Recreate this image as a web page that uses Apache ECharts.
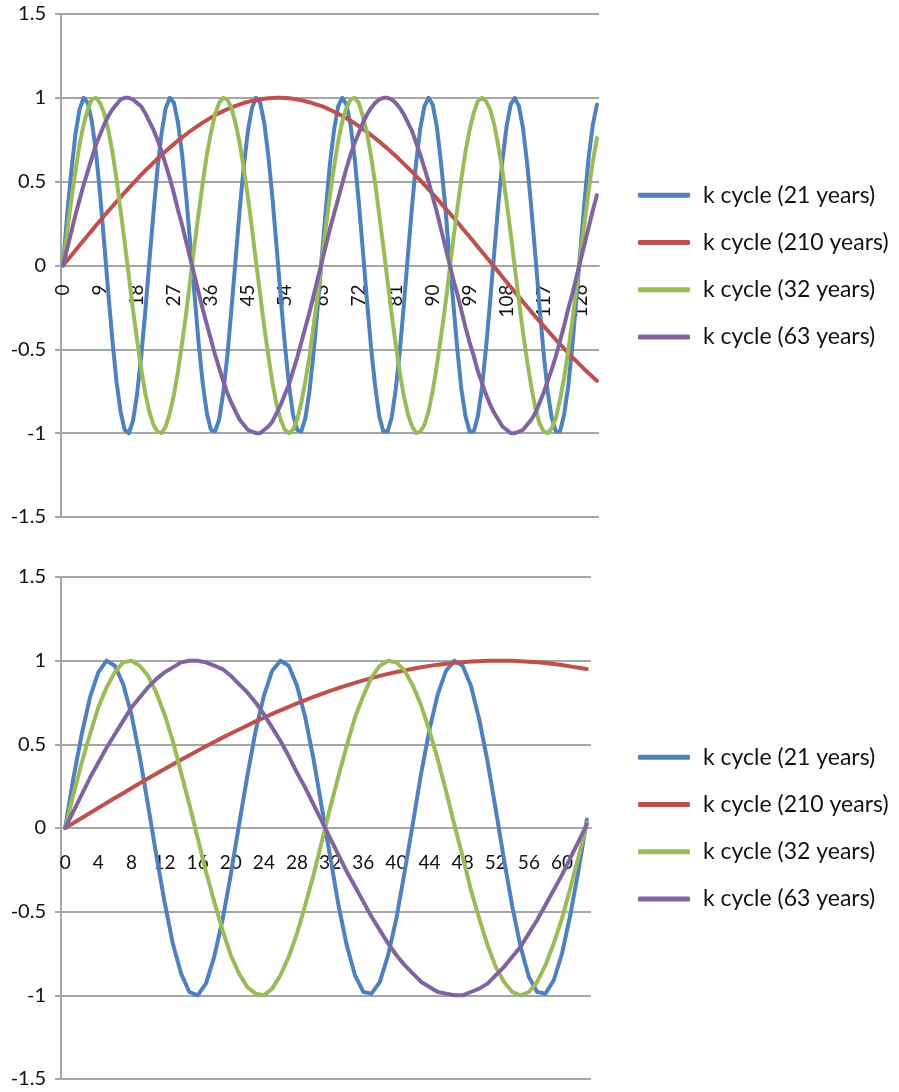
<!DOCTYPE html>
<html>
<head>
<meta charset="utf-8">
<script src="https://cdn.jsdelivr.net/npm/echarts@6/dist/echarts.min.js"></script>
<style>
    html, body { margin: 0; padding: 0; background: #fff; }
    #chart { width: 899px; height: 1092px; }
</style>
</head>
<body>
<div id="chart"></div>
<script>
// k = 0..130 (top panel), first 64 values reused for the bottom panel
const years = [0,1,2,3,4,5,6,7,8,9,10,11,12,13,14,15,16,17,18,19,20,21,22,23,24,25,26,27,28,29,
    30,31,32,33,34,35,36,37,38,39,40,41,42,43,44,45,46,47,48,49,50,51,52,53,54,55,56,57,58,59,
    60,61,62,63,64,65,66,67,68,69,70,71,72,73,74,75,76,77,78,79,80,81,82,83,84,85,86,87,88,89,
    90,91,92,93,94,95,96,97,98,99,100,101,102,103,104,105,106,107,108,109,110,111,112,113,114,
    115,116,117,118,119,120,121,122,123,124,125,126,127,128,129,130];

const cycle21 = [0,0.30,0.56,0.78,0.93,1.00,0.97,0.86,0.68,0.43,0.14,-0.16,-0.44,-0.69,-0.87,-0.98,-1.00,-0.93,-0.77,-0.55,-0.28,
    0.02,0.31,0.58,0.79,0.94,1.00,0.97,0.85,0.66,0.41,0.12,-0.17,-0.46,-0.70,-0.88,-0.98,-0.99,-0.92,-0.76,-0.54,-0.26,
    0.03,0.33,0.59,0.80,0.94,1.00,0.97,0.85,0.65,0.40,0.11,-0.19,-0.47,-0.71,-0.89,-0.98,-0.99,-0.91,-0.75,-0.52,-0.25,
    0.05,0.34,0.61,0.81,0.95,1.00,0.96,0.84,0.64,0.38,0.09,-0.21,-0.49,-0.72,-0.90,-0.99,-0.99,-0.91,-0.74,-0.51,-0.23,
    0.07,0.36,0.62,0.82,0.95,1.00,0.96,0.83,0.62,0.37,0.07,-0.22,-0.50,-0.74,-0.90,-0.99,-0.99,-0.90,-0.73,-0.49,-0.21,
    0.08,0.37,0.63,0.83,0.96,1.00,0.95,0.82,0.61,0.35,0.06,-0.24,-0.52,-0.75,-0.91,-0.99,-0.99,-0.89,-0.72,-0.48,-0.20,
    0.10,0.39,0.65,0.84,0.96];

const cycle210 = [0,0.030,0.060,0.090,0.120,0.149,0.179,0.208,0.238,0.267,
    0.296,0.324,0.352,0.380,0.408,0.435,0.462,0.488,0.514,0.540,
    0.565,0.589,0.613,0.637,0.659,0.682,0.703,0.724,0.745,0.764,
    0.783,0.802,0.819,0.836,0.852,0.867,0.882,0.896,0.909,0.921,
    0.932,0.942,0.952,0.961,0.969,0.976,0.982,0.987,0.991,0.995,
    0.997,0.999,1.000,1.000,0.999,0.997,0.994,0.990,0.986,0.980,
    0.974,0.966,0.958,0.950,0.940,0.929,0.917,0.905,0.892,0.878,
    0.863,0.848,0.831,0.814,0.797,0.778,0.759,0.739,0.718,0.697,
    0.675,0.653,0.630,0.606,0.582,0.558,0.533,0.507,0.481,0.454,
    0.427,0.400,0.372,0.344,0.316,0.288,0.259,0.229,0.200,0.171,
    0.141,0.111,0.082,0.052,0.022,-0.008,-0.038,-0.068,-0.098,-0.128,
    -0.158,-0.187,-0.217,-0.246,-0.275,-0.304,-0.332,-0.360,-0.388,-0.415,
    -0.443,-0.469,-0.496,-0.521,-0.547,-0.571,-0.596,-0.620,-0.643,-0.666,
    -0.688];

const cycle32 = [0,0.20,0.39,0.56,0.72,0.84,0.93,0.99,1.00,0.97,
    0.91,0.81,0.68,0.52,0.33,0.14,-0.06,-0.26,-0.44,-0.61,
    -0.76,-0.87,-0.95,-0.99,-1.00,-0.96,-0.88,-0.77,-0.63,-0.46,
    -0.28,-0.08,0.12,0.31,0.49,0.66,0.79,0.90,0.97,1.00,
    0.99,0.94,0.85,0.73,0.58,0.41,0.22,0.02,-0.17,-0.37,
    -0.54,-0.70,-0.83,-0.92,-0.98,-1.00,-0.98,-0.92,-0.82,-0.69,
    -0.54,-0.36,-0.17,0.03,0.23,0.42,0.59,0.74,0.86,0.94,
    0.99,1.00,0.97,0.89,0.79,0.65,0.49,0.30,0.11,-0.09,
    -0.29,-0.47,-0.64,-0.78,-0.89,-0.96,-1.00,-0.99,-0.95,-0.87,
    -0.75,-0.60,-0.43,-0.25,-0.05,0.15,0.34,0.52,0.68,0.81,
    0.91,0.98,1.00,0.98,0.93,0.84,0.71,0.56,0.38,0.19,
    -0.01,-0.21,-0.40,-0.57,-0.72,-0.85,-0.94,-0.99,-1.00,-0.97,
    -0.91,-0.80,-0.67,-0.51,-0.33,-0.13,0.07,0.26,0.45,0.62,
    0.76];

const cycle63 = [0,0.10,0.20,0.30,0.39,0.48,0.56,0.64,0.72,0.78,
    0.84,0.89,0.93,0.96,0.99,1.00,1.00,0.99,0.97,0.95,
    0.91,0.86,0.81,0.75,0.68,0.60,0.52,0.43,0.33,0.24,
    0.14,0.04,-0.06,-0.16,-0.26,-0.35,-0.44,-0.53,-0.61,-0.69,
    -0.76,-0.82,-0.87,-0.92,-0.95,-0.98,-0.99,-1.00,-1.00,-0.98,
    -0.96,-0.93,-0.88,-0.83,-0.77,-0.71,-0.63,-0.55,-0.46,-0.37,
    -0.28,-0.18,-0.08,0.02,0.12,0.22,0.31,0.40,0.49,0.58,
    0.66,0.73,0.79,0.85,0.90,0.94,0.97,0.99,1.00,1.00,
    0.99,0.97,0.94,0.90,0.85,0.80,0.73,0.66,0.58,0.50,
    0.41,0.32,0.22,0.12,0.02,-0.08,-0.17,-0.27,-0.37,-0.46,
    -0.54,-0.63,-0.70,-0.77,-0.83,-0.88,-0.92,-0.96,-0.98,-1.00,
    -1.00,-0.99,-0.98,-0.95,-0.92,-0.88,-0.82,-0.76,-0.69,-0.62,
    -0.54,-0.45,-0.36,-0.26,-0.17,-0.07,0.03,0.13,0.23,0.33,
    0.42];

const seriesNames = ['k cycle (21 years)', 'k cycle (210 years)', 'k cycle (32 years)', 'k cycle (63 years)'];
const seriesData = [cycle21, cycle210, cycle32, cycle63];
const colors = ['#4F81BD', '#C0504D', '#9BBB59', '#8064A2'];
const bottomCount = 64;

const FONT = 'Lato, "Open Sans", sans-serif';
const GRID_COLOR = '#a6a6a6';
const TEXT_COLOR = '#111';

// two panels, both from -1.5 to 1.5
const panels = [
    { left: 61, top: 14, width: 538, height: 503 },
    { left: 61, top: 577, width: 530, height: 502 }
];

function makeYAxis(gridIndex) {
    return {
        type: 'value', gridIndex: gridIndex,
        min: -1.5, max: 1.5, interval: 0.5,
        axisLine: { show: true, onZero: false, lineStyle: { color: GRID_COLOR, width: 2 } },
        axisTick: { show: true, length: 6, lineStyle: { color: GRID_COLOR, width: 2 } },
        axisLabel: { color: TEXT_COLOR, fontSize: 20, fontFamily: FONT, margin: 15 },
        splitLine: { lineStyle: { color: GRID_COLOR, width: 2 } }
    };
}

// the category axis crosses at y = 0, i.e. the middle of each panel
function makeXAxis(gridIndex, cats, labelInterval, rotate) {
    return {
        type: 'category', gridIndex: gridIndex, data: cats, boundaryGap: true,
        position: 'bottom',
        offset: -panels[gridIndex].height / 2,
        axisLine: { onZero: false, lineStyle: { color: GRID_COLOR, width: 2 } },
        axisTick: { interval: 0, length: 6, lineStyle: { color: GRID_COLOR, width: 1.5 } },
        axisLabel: {
            interval: labelInterval, rotate: rotate, margin: rotate ? 19 : 25,
            color: TEXT_COLOR, fontSize: 19, fontFamily: FONT
        },
        splitLine: { show: false }
    };
}

function makeLegend(top) {
    return {
        orient: 'vertical', left: 638, top: top, padding: 0,
        itemWidth: 52, itemHeight: 5, itemGap: 21, icon: 'roundRect',
        selectedMode: false,
        data: seriesNames,
        textStyle: { color: TEXT_COLOR, fontSize: 23, fontFamily: FONT, lineHeight: 26.3, padding: [0, 0, 0, 8] }
    };
}

const series = [];
[0, 1].forEach(g => {
    seriesData.forEach((d, i) => {
        series.push({
            name: seriesNames[i],
            type: 'line',
            xAxisIndex: g, yAxisIndex: g,
            data: g === 0 ? d : d.slice(0, bottomCount),
            showSymbol: false,
            smooth: false,
            lineStyle: { color: colors[i], width: 4, cap: 'round', join: 'round' },
            itemStyle: { color: colors[i] },
            emphasis: { disabled: true }
        });
    });
});

const chart = echarts.init(document.getElementById('chart'));
chart.setOption({
    animation: false,
    backgroundColor: '#fff',
    grid: panels,
    legend: [makeLegend(182), makeLegend(744)],
    xAxis: [
        makeXAxis(0, years, 8, 90),
        makeXAxis(1, years.slice(0, bottomCount), 3, 0)
    ],
    yAxis: [makeYAxis(0), makeYAxis(1)],
    series: series
});
</script>
</body>
</html>
